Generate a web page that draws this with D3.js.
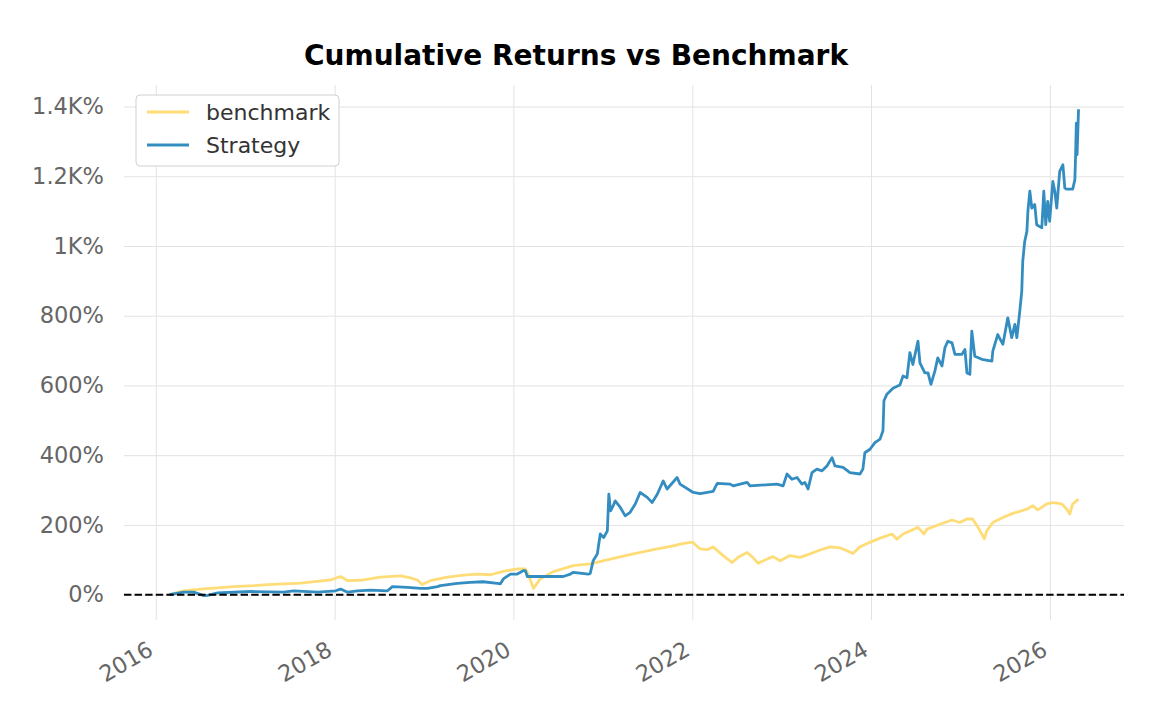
<!DOCTYPE html>
<html><head><meta charset="utf-8">
<script src="https://cdn.jsdelivr.net/npm/d3@7"></script>
<style>body{margin:0;background:#fff} svg{display:block}</style>
</head><body>
<svg id="chart" width="1152" height="720"></svg>
<script>
const benchDates = ["2016-02-26","2016-04-24","2016-07-03","2016-11-14","2017-02-04","2017-04-02","2017-08-15","2017-11-17","2017-12-15","2018-01-25","2018-02-23","2018-04-29","2018-07-07","2018-09-27","2018-11-07","2018-12-05","2018-12-24","2019-01-27","2019-04-06","2019-06-11","2019-08-07","2019-09-29","2019-11-21","2020-01-17","2020-02-19","2020-03-01","2020-03-23","2020-04-20","2020-06-12","2020-09-02","2020-11-10","2021-01-31","2021-05-05","2021-08-11","2021-10-15","2021-11-12","2021-12-23","2022-01-03","2022-02-02","2022-03-03","2022-03-27","2022-05-07","2022-06-13","2022-07-07","2022-08-13","2022-09-02","2022-09-27","2022-11-03","2022-11-27","2022-12-26","2023-02-04","2023-03-17","2023-04-27","2023-06-07","2023-07-18","2023-08-27","2023-09-25","2023-10-19","2023-11-17","2023-12-28","2024-02-07","2024-03-27","2024-04-16","2024-05-11","2024-07-11","2024-08-05","2024-08-17","2024-10-09","2024-11-27","2024-12-29","2025-01-27","2025-02-19","2025-03-09","2025-03-29","2025-04-08","2025-04-18","2025-05-13","2025-06-23","2025-08-02","2025-09-29","2025-10-23","2025-11-12","2025-12-19","2026-01-13","2026-02-19","2026-03-11","2026-03-23","2026-04-04","2026-04-28"];
const benchValues = [0,11,16,23,26,29,33,40,42,52,40,42,50,54,48,42,29,40,50,56,59,57,67,74,74,60,18,45,66,83,88,102,117,131,140,145,150,150,131,129,137,112,92,107,121,109,90,102,109,97,112,107,117,128,137,134,126,118,137,150,162,174,159,174,193,174,188,202,214,207,217,217,198,174,160,183,207,221,233,245,255,243,260,264,260,245,231,260,274];

const stratDates = ["2016-02-26","2016-04-24","2016-06-04","2016-07-03","2016-07-15","2016-07-31","2016-09-10","2017-01-23","2017-06-06","2017-07-17","2017-10-23","2018-01-05","2018-01-25","2018-02-23","2018-04-04","2018-05-28","2018-08-05","2018-08-25","2018-10-26","2018-12-18","2019-01-15","2019-02-25","2019-03-09","2019-05-17","2019-07-09","2019-08-31","2019-10-28","2019-11-09","2019-11-21","2019-12-20","2020-01-17","2020-01-30","2020-02-11","2020-02-19","2020-02-27","2020-07-23","2020-08-21","2020-09-02","2020-11-02","2020-11-10","2020-11-22","2020-12-09","2020-12-21","2021-01-04","2021-01-19","2021-01-25","2021-02-01","2021-02-12","2021-02-20","2021-03-13","2021-04-02","2021-04-22","2021-05-13","2021-06-02","2021-07-01","2021-07-21","2021-08-11","2021-09-04","2021-09-20","2021-10-31","2021-11-12","2022-01-05","2022-02-02","2022-03-27","2022-04-13","2022-06-05","2022-06-17","2022-08-13","2022-08-25","2022-12-13","2023-01-07","2023-01-23","2023-02-12","2023-03-05","2023-03-25","2023-04-06","2023-04-19","2023-05-05","2023-05-25","2023-06-15","2023-07-05","2023-07-26","2023-08-07","2023-09-09","2023-10-07","2023-11-17","2023-11-29","2023-12-07","2023-12-28","2024-01-17","2024-02-07","2024-02-19","2024-02-23","2024-03-06","2024-03-31","2024-04-28","2024-05-11","2024-05-27","2024-06-08","2024-06-20","2024-07-11","2024-07-19","2024-08-08","2024-08-21","2024-09-02","2024-09-18","2024-09-30","2024-10-17","2024-10-29","2024-11-10","2024-11-27","2024-12-09","2025-01-06","2025-01-19","2025-01-27","2025-02-08","2025-02-16","2025-02-28","2025-03-29","2025-05-09","2025-05-13","2025-06-02","2025-06-23","2025-07-13","2025-07-29","2025-08-11","2025-08-19","2025-08-31","2025-09-08","2025-09-12","2025-09-20","2025-09-29","2025-10-03","2025-10-11","2025-10-19","2025-10-31","2025-11-08","2025-11-29","2025-12-07","2025-12-15","2025-12-23","2025-12-31","2026-01-13","2026-01-21","2026-01-29","2026-02-10","2026-02-23","2026-03-03","2026-03-11","2026-04-04","2026-04-13","2026-04-16","2026-04-19","2026-04-22","2026-04-28"];
const stratValues = [0,7,7,0,-3,-2,5,9,7,11,7,11,16,7,11,13,11,23,21,18,18,23,26,32,35,37,32,31,45,59,59,64,69,69,52,52,59,64,59,61,97,117,174,164,183,288,240,255,269,250,226,236,260,293,279,264,288,326,303,336,317,293,290,296,319,317,312,322,312,317,312,346,331,336,317,322,303,350,360,355,369,393,369,365,350,346,360,407,417,436,446,470,556,575,592,601,627,622,694,660,727,665,636,636,603,641,679,656,708,727,722,689,689,703,636,632,756,684,675,670,699,746,718,794,737,775,737,813,870,956,1013,1042,1099,1157,1109,1119,1061,1052,1157,1061,1128,1071,1185,1157,1109,1214,1233,1166,1163,1163,1190,1262,1352,1262,1392];

const seriesNames = ["benchmark", "Strategy"];
const seriesColors = ["#fedd78", "#348dc1"];
const yTickValues = [0, 200, 400, 600, 800, 1000, 1200, 1400];
const yTickLabels = ["0%", "200%", "400%", "600%", "800%", "1K%", "1.2K%", "1.4K%"];
const xTickYears = [2016, 2018, 2020, 2022, 2024, 2026];
const titleText = "Cumulative Returns vs Benchmark";

const parse = d3.utcParse("%Y-%m-%d");
function zip(ds, vs) {
  const n = Math.min(ds.length, vs.length);
  return d3.range(n).map(i => ({date: parse(ds[i]), value: vs[i]}));
}
const series = [zip(benchDates, benchValues), zip(stratDates, stratValues)];

const L = 124, R = 1124, T = 85, B = 620;
const FONT = "DejaVu Sans, sans-serif";
const svg = d3.select("#chart");

const allPts = series.flat();
const [d0, d1] = d3.extent(allPts, d => d.date);
const dPad = (d1 - d0) * 0.05;
const x = d3.scaleUtc().domain([new Date(+d0 - dPad), new Date(+d1 + dPad)]).range([L, R]);
const [v0, v1] = d3.extent(allPts, d => d.value);
const vPad = (v1 - v0) * 0.05;
const y = d3.scaleLinear().domain([v0 - vPad, v1 + vPad]).range([B, T]);

const xTickDates = xTickYears.map(yr => new Date(Date.UTC(yr, 0, 1)));

// vertical grid
const gx = svg.append("g").attr("transform", `translate(0,${B})`)
  .call(d3.axisBottom(x).tickValues(xTickDates).tickSize(-(B - T)).tickFormat(""));
gx.select(".domain").remove();
gx.selectAll(".tick line").attr("stroke", "#e3e3e3").attr("stroke-width", 1);

// horizontal grid + y labels
const gy = svg.append("g").attr("transform", `translate(${L},0)`)
  .call(d3.axisLeft(y).tickValues(yTickValues).tickSize(-(R - L)).tickPadding(20)
    .tickFormat((d, i) => yTickLabels[i]));
gy.select(".domain").remove();
gy.selectAll(".tick line").attr("stroke", "#e3e3e3").attr("stroke-width", 1);
gy.selectAll(".tick text").attr("fill", "#666").attr("font-family", FONT).attr("font-size", 22.5);

// x labels
const gxl = svg.append("g");
gxl.selectAll("text").data(xTickDates).join("text")
  .attr("transform", d => `translate(${x(d) - 1},654) rotate(-30)`)
  .attr("text-anchor", "end")
  .attr("fill", "#666").attr("font-family", FONT).attr("font-size", 22.5)
  .text(d3.utcFormat("%Y"));

// lines
const line = d3.line().x(d => x(d.date)).y(d => y(d.value));
svg.append("g").selectAll("path").data(series).join("path")
  .attr("d", line).attr("fill", "none")
  .attr("stroke", (d, i) => seriesColors[i])
  .attr("stroke-width", 2.8).attr("stroke-linejoin", "round");

// zero line
svg.append("line").attr("x1", L).attr("x2", R).attr("y1", y(0)).attr("y2", y(0))
  .attr("stroke", "#000").attr("stroke-width", 2).attr("stroke-dasharray", "7.4,3.2");

// title
svg.append("text").attr("x", 576).attr("y", 65).attr("text-anchor", "middle")
  .attr("font-family", FONT).attr("font-weight", "bold").attr("font-size", 28)
  .attr("fill", "#000").text(titleText);

// legend
const lg = svg.append("g");
lg.append("rect").attr("x", 136).attr("y", 95).attr("width", 203).attr("height", 71)
  .attr("rx", 4).attr("fill", "#fff").attr("stroke", "#d0d0d0").attr("stroke-width", 1);
seriesNames.forEach((name, i) => {
  const ly = 112 + i * 33;
  lg.append("line").attr("x1", 147).attr("x2", 189).attr("y1", ly).attr("y2", ly)
    .attr("stroke", seriesColors[i]).attr("stroke-width", 2.8);
  lg.append("text").attr("x", 206).attr("y", ly).attr("dy", "0.35em")
    .attr("font-family", FONT).attr("font-size", 22).attr("fill", "#333").text(name);
});
</script>
</body></html>
